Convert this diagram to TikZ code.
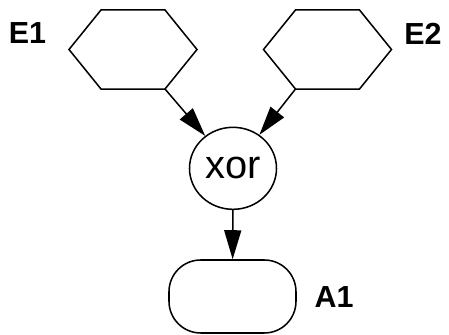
\documentclass[tikz,border=0pt]{standalone}
\usepackage{fontspec}
\setmainfont{Liberation Sans}
\usetikzlibrary{shapes.geometric,arrows.meta}
\begin{document}
\begin{tikzpicture}[line width=1.3pt,
    hexa/.style={draw,regular polygon,regular polygon sides=6,minimum size=3.84cm,inner sep=0,outer sep=0,yscale=0.713},
    lbl/.style={font=\fontsize{26}{30}\selectfont\bfseries,inner sep=0},
    arr/.style={-{Triangle[length=0.87cm,width=0.51cm]}}]
          \useasboundingbox (0,0) rectangle (13.47,10.05);
          \node [hexa] (E1) at (3.99,8.565) {};
          \node [hexa] (E2) at (9.825,8.565) {};
          \node [draw,ellipse,minimum width=2.61cm,minimum height=2.46cm,inner sep=0,font=\fontsize{34}{40}\selectfont] (xor) at (6.99,5.0) {xor};
          \node [draw,rectangle,rounded corners=0.95cm,minimum width=3.81cm,minimum height=2.19cm] (A1) at (6.975,1.155) {};
          \node [lbl] (lE1) at (0.825,9.045) {E1};
          \node [lbl] (lE2) at (12.69,9.045) {E2};
          \node [lbl] (lA1) at (10.02,1.125) {A1};
          \draw [arr] (E1.-60) -- (xor);
          \draw [arr] (E2.-120) -- (xor);
          \draw [arr] (xor) -- (A1);
        \end{tikzpicture}
\end{document}
